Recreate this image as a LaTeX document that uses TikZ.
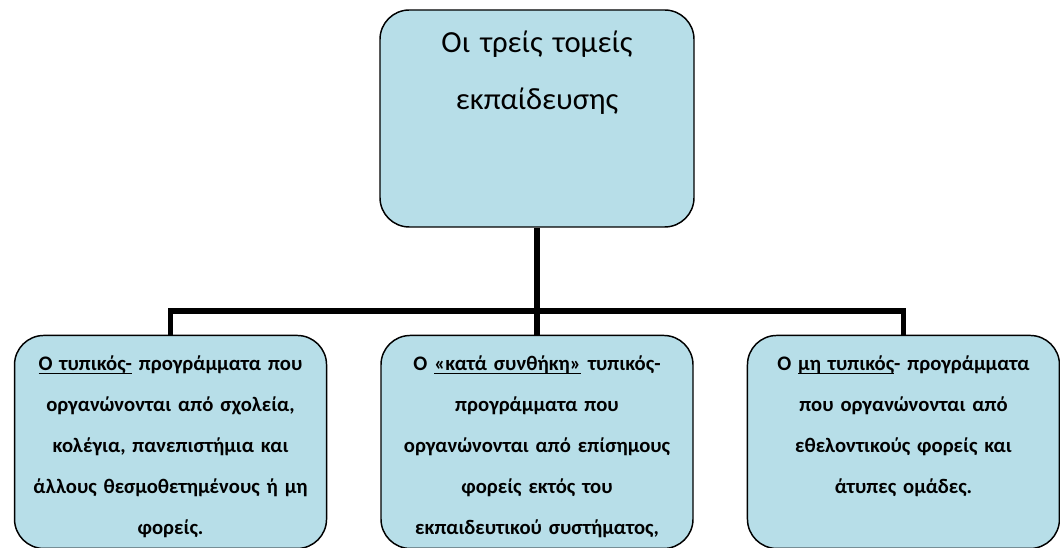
\documentclass[tikz,border=0pt]{standalone}
\usepackage{fontspec}
\setmainfont{Carlito}
\usetikzlibrary{positioning}
\definecolor{aqua}{HTML}{B7DEE8}
\newcommand{\undl}[1]{\setbox0\hbox{#1}\rlap{\rule[-2.6pt]{\wd0}{0.7pt}}\box0\relax}

\begin{document}
\begin{tikzpicture}
  [x=0.75pt,y=-0.75pt,
  head/.style={rectangle,rounded corners=22pt,draw=black,fill=aqua,line width=1.1pt,
    text width=225.5pt,inner xsep=5pt,inner ysep=0pt,align=center,
    text height=32.25pt,text depth=130.5pt,font=\fontsize{23}{42.75}\selectfont},
  sector/.style={rectangle,rounded corners=22pt,draw=black,fill=aqua,line width=1.1pt,
    text width=231pt,inner xsep=1.5pt,inner ysep=0pt,align=center,
    text height=26.25pt,text depth=133.5pt,font=\bfseries\fontsize{15.5}{30.75}\selectfont},
  link/.style={line width=4.2pt}]

\useasboundingbox (0,0) rectangle (1060,548);

% root of the tree
\node[head] (sectors) at (537,118.5) {Οι τρείς τομείς\\εκπαίδευσης};

% the three sectors
\node[sector] (cond-formal) [below=80.25pt of sectors] {Ο \undl{«κατά συνθήκη»} τυπικός-\\προγράμματα που\\οργανώνονται από επίσημους\\φορείς εκτός του\\εκπαιδευτικού συστήματος,};
\node[sector] (formal) [left=39.75pt of cond-formal] {\undl{Ο τυπικός-} προγράμματα που\\οργανώνονται από σχολεία,\\κολέγια, πανεπιστήμια και\\άλλους θεσμοθετημένους ή μη\\φορείς.};
\node[sector] (non-formal) [right=39.75pt of cond-formal] {Ο \undl{μη τυπικός}- προγράμματα\\που οργανώνονται από\\εθελοντικούς φορείς και\\άτυπες ομάδες.};

% connectors
\coordinate[above=18pt of cond-formal.north] (hub);
\draw [link] (sectors) -- (cond-formal);
\draw [link] (formal) |- (hub) -| (non-formal);

\end{tikzpicture}
\end{document}
